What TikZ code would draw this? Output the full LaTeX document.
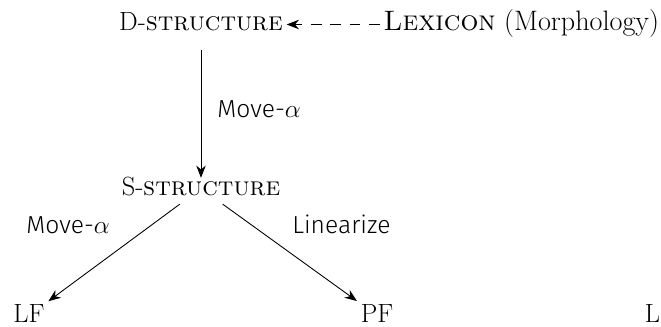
\documentclass[tikz,border=0pt]{standalone}
\usepackage{fontspec}
\usepackage{tikz}
\usetikzlibrary{arrows.meta}
\newfontfamily\rulefont{Fira Sans}[UprightFont=* Light]
\pgfdeclarelayer{nodelayer}
\pgfdeclarelayer{edgelayer}
\pgfsetlayers{edgelayer,nodelayer,main}
\tikzstyle{level}=[font=\fontsize{15}{18}\selectfont, anchor=base, inner sep=2pt, text height=10.4pt, text depth=3pt]
\tikzstyle{rule label}=[font=\rulefont\fontsize{14}{17}\selectfont, anchor=base west, inner sep=0pt]
\tikzstyle{directed edge}=[-{Stealth[length=7pt,width=5.4pt]}, line width=0.5pt]
\tikzstyle{lexical edge}=[directed edge, dash pattern=on 6pt off 5pt]

\begin{document}
\begin{tikzpicture}
	\useasboundingbox (0, 0) rectangle (13.22, 6.52);
	\begin{pgfonlayer}{nodelayer}
		\node [style=level] (ds) at (4.02, 5.9) {D-\textsc{structure}};
		\node [style=level, anchor=base west, font=\fontsize{16}{19}\selectfont] (lex) at (7.59, 5.9) {\textsc{Lexicon} (Morphology)};
		\node [style=level] (ss) at (4.02, 2.62) {S-\textsc{structure}};
		\node [style=level] (lf) at (0.58, 0.08) {LF};
		\node [style=level] (pf) at (7.54, 0.08) {PF};
		\node [style=level] (l) at (13.05, 0.08) {L};
		\node [style=rule label] (move) at (4.34, 4.16) {Move-$\alpha$};
		\node [style=rule label] (qr) at (0.52, 1.86) {Move-$\alpha$};
		\node [style=rule label] (lin) at (5.84, 1.86) {Linearize};
	\end{pgfonlayer}
	\begin{pgfonlayer}{edgelayer}
		\draw [style=lexical edge] (lex.west) to (ds.east);
		\draw [style=directed edge, shorten <=0.2cm, shorten >=-0.1cm] (ds) to (ss);
		\draw [style=directed edge] (ss) to (lf);
		\draw [style=directed edge] (ss) to (pf);
	\end{pgfonlayer}
\end{tikzpicture}
\end{document}
